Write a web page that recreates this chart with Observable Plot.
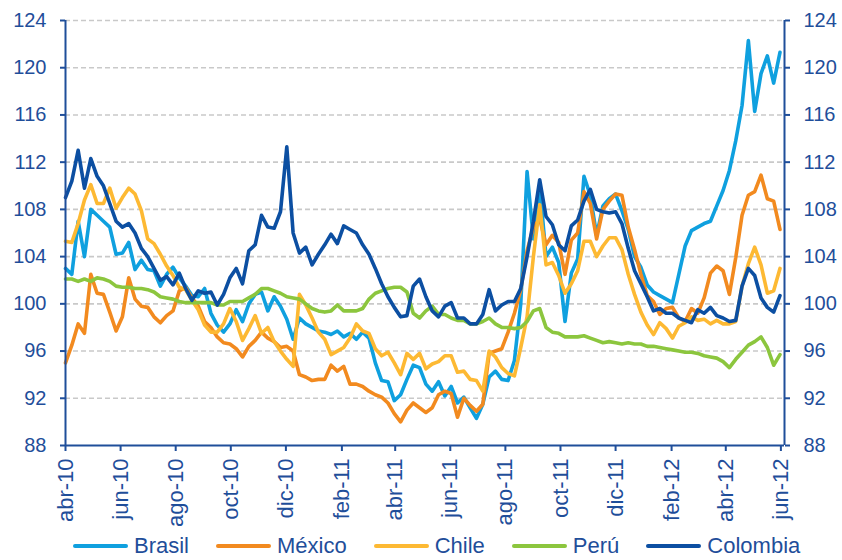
<!DOCTYPE html>
<html>
<head>
<meta charset="utf-8">
<script src="https://cdn.jsdelivr.net/npm/d3@7"></script>
<script src="https://cdn.jsdelivr.net/npm/@observablehq/plot@0.6"></script>
<style>
  html, body { margin: 0; padding: 0; background: #ffffff; }
  body { font-family: "Liberation Sans", Arial, sans-serif; }
  #chart { width: 842px; height: 560px; position: relative; overflow: hidden; }
  #chart svg { display: block; }
  .legend { display: flex; align-items: center; height: 28px; padding-left: 73px; color: #1f4e9a; font-size: 22px; line-height: 1; }
  .item { display: flex; align-items: center; margin-right: 27px; }
  .sw { width: 55px; height: 4px; margin-right: 6px; border-radius: 2px; }
</style>
</head>
<body>
<div id="chart"></div>
<script>
// ---------- data ----------
const startDate = "2010-04-01";           // first weekly observation
const stepDays = 7;                        // one observation per week
const xDomain = ["2010-04-01", "2012-06-05"];
const tickDates = ["2010-04-01","2010-06-01","2010-08-01","2010-10-01","2010-12-01","2011-02-01","2011-04-01",
                   "2011-06-01","2011-08-01","2011-10-01","2011-12-01","2012-02-01","2012-04-01","2012-06-01"];
const tickLabels = ["abr-10","jun-10","ago-10","oct-10","dic-10","feb-11","abr-11",
                    "jun-11","ago-11","oct-11","dic-11","feb-12","abr-12","jun-12"];
const yTicks = [88, 92, 96, 100, 104, 108, 112, 116, 120, 124];
const countries = ["Brasil", "México", "Chile", "Perú", "Colombia"];
const colors = ["#0fa0df", "#f28a1f", "#fdb933", "#8cc63e", "#0c4fa2"];

const brasil = [103,102.5,107,104,108,107.5,107,106.5,104.2,104.3,
  105.2,102.9,103.7,102.9,102.8,101.5,102.5,103.1,102.2,101.5,
  100.7,100.6,101.3,99.2,98.2,97.6,98.3,99.5,98.5,100,
  100.8,101,99.4,100.6,99.8,98.7,97,98.8,98.3,98,
  97.7,97.6,97.4,97.7,97.2,97.5,97,97.6,97.1,95,
  93.5,93.4,91.8,92.3,93.6,94.8,94.6,93.2,92.6,93.4,
  92.2,93.0,91.6,92.1,91.2,90.3,91.5,93.8,94.3,93.6,
  93.5,95.2,100,111.2,105.5,110,104,104.8,103.5,98.5,
  102.6,103.8,110.8,109.2,105.8,108.3,108.9,109.3,107.9,106.3,
  104,103.1,101.6,101,100.7,100.4,100.1,102.5,104.9,106.2,
  106.5,106.8,107,108.3,109.6,111.3,113.8,116.8,122.3,116.3,
  119.5,121,118.7,121.3];

const mexico = [95,96.5,98.3,97.5,102.5,100.9,100.8,99.3,97.7,98.9,
  102.2,100.4,99.8,99.7,98.9,98.4,99,99.4,101.1,101.4,
  100.5,99.8,98.5,98,97.2,96.7,96.6,96.2,95.5,96.4,
  96.9,97.6,97.1,96.8,96.3,96.4,96,94,93.8,93.5,
  93.6,93.6,94.8,94.3,94.7,93.2,93.2,93,92.6,92.3,
  92.1,91.6,90.7,90,91,91.6,91.2,90.8,91.2,92.3,
  92.6,92.4,90.4,92.0,91.4,90.9,91.5,95.8,96.0,96.2,
  97.6,99.2,101.2,104.5,106.5,107.2,105,105.8,105.2,102.5,
  105.4,106,109.5,108.5,105.5,108,108.7,109.3,109.2,106.5,
  104.6,102.5,100.7,100.2,99.1,99.6,99.7,98.8,98.5,99.6,
  99.2,100.5,102.6,103.2,102.8,100.8,103.9,107.5,109.2,109.5,
  110.9,108.9,108.7,106.3];

const chile = [105.3,105.2,106.8,108.8,110.1,108.5,108.5,109.8,108.1,109,
  109.8,109.3,107.9,105.5,105.1,104.2,103.2,102.4,101.4,101.2,
  100.3,99.5,98.2,97.6,97.6,98.3,99.6,98.5,96.9,97.9,
  99,97.5,98,96.8,96,95.3,94.7,100.8,99.9,98.8,
  97.6,97,95.7,96,96.3,97.1,98.3,97.7,97.5,96.2,
  95.6,95.9,95,94,95.8,95.3,95.8,94.5,94.9,95.1,
  95.6,95.6,94.2,94.3,93.6,93.5,92.6,96,95.5,94.6,
  94.1,93.9,96.3,98.9,104,108.4,103.3,103.5,102.4,100.9,
  101.7,102.8,105.3,105.3,104,104.9,105.6,105.6,104.6,102.5,
  100.8,99.3,98.2,97.4,98.4,97.9,97.1,98.1,98.4,98.9,
  98.6,98.7,98.3,98.6,98.3,98.3,98.5,101.5,103.4,104.8,
  103.3,100.9,101.1,103];

const peru = [102.1,102.1,101.9,102.1,101.9,102.2,102.1,101.9,101.5,101.4,
  101.4,101.3,101.3,101.2,101,100.6,100.5,100.4,100.2,100.1,
  100.1,100.1,100.1,100.1,99.9,99.9,100.2,100.2,100.2,100.5,
  100.8,101.3,101.3,101.1,100.9,100.6,100.5,100.4,100,99.6,
  99.4,99.3,99.4,99.9,99.4,99.4,99.4,99.6,100.4,100.9,
  101.1,101.3,101.4,101.4,101,99.2,98.8,99.4,99.8,99.1,
  99.1,98.8,98.6,98.6,98.3,98.3,98.5,98.8,98.3,98,
  98,97.9,98,98.5,99.4,99.6,98,97.6,97.5,97.2,
  97.2,97.2,97.3,97.1,96.9,96.7,96.8,96.7,96.6,96.7,
  96.6,96.6,96.4,96.4,96.3,96.2,96.1,96,95.9,95.9,
  95.8,95.6,95.5,95.4,95.1,94.6,95.3,95.9,96.5,96.8,
  97.2,96.3,94.8,95.7];

const colombia = [109,110.4,113,109.8,112.3,110.8,110,108.5,107,106.5,
  106.8,106,104.7,104,103,102,102.3,101.6,102.6,101.3,
  100.3,101.1,100.9,101,99.9,100.8,102.2,103,101.7,104.5,
  105,107.5,106.5,106.4,107.8,113.3,106,104.3,104.8,103.3,
  104.2,105,105.9,105.1,106.6,106.3,106,105,104.2,103,
  101.7,100.6,99.7,98.9,99,101.5,102.1,100.6,99.4,98.9,
  99.8,100.1,98.8,98.8,98.3,98.3,99.1,101.2,99.4,99.9,
  100.2,100.2,101.3,104,107,110.5,107.4,106.7,105,104.5,
  106.6,107.1,108.7,109.7,108,107.8,107.7,107.8,106.8,104.7,
  102.8,101.7,100.6,99.4,99.6,99.2,99.2,98.8,98.6,98.4,
  99.5,99.2,99.7,99,98.8,98.5,98.6,101.5,103,102.4,
  100.5,99.7,99.3,100.7];

// ---------- build table ----------
const seriesValues = [brasil, mexico, chile, peru, colombia];
const start = new Date(startDate);
const rows = countries.flatMap((c, i) =>
  seriesValues[i].map((v, k) => ({country: c, date: d3.utcDay.offset(start, stepDays * k), value: v}))
);

const axisColor = "#1f4e9a";
const x0 = new Date(xDomain[0]);
const x1 = new Date(xDomain[1]);
const xTicks = tickDates.map(d => new Date(d));
const labelFor = d => tickLabels[xTicks.findIndex(t => +t === +d)];

const chart = Plot.plot({
  width: 842,
  height: 532,
  marginTop: 20,
  marginBottom: 87,
  marginLeft: 65,
  marginRight: 58,
  style: {fontFamily: "'Liberation Sans', Arial, sans-serif", color: axisColor, background: "#ffffff", overflow: "visible"},
  x: {type: "utc", domain: [x0, x1]},
  y: {domain: [yTicks[0], yTicks[yTicks.length - 1]]},
  color: {domain: countries, range: colors},
  marks: [
    Plot.ruleY(yTicks.slice(1), {stroke: "#c9c9c9", strokeWidth: 1.6, strokeDasharray: "5,3"}),
    Plot.lineY(rows, {x: "date", y: "value", z: "country", stroke: "country", strokeWidth: 3.6, strokeLinejoin: "round", strokeLinecap: "round"}),
    Plot.ruleX([x0, x1], {stroke: axisColor, strokeWidth: 2}),
    Plot.ruleY([yTicks[0]], {stroke: axisColor, strokeWidth: 2}),
    Plot.axisY({anchor: "left", ticks: yTicks, tickSize: 5, tickPadding: 14, fontSize: 20, strokeWidth: 2, label: null}),
    Plot.axisY({anchor: "right", ticks: yTicks, tickSize: 5, tickPadding: 14, fontSize: 20, strokeWidth: 2, label: null}),
    Plot.axisX({ticks: xTicks, tickFormat: labelFor, tickRotate: -90, tickSize: 6, tickPadding: 7, fontSize: 22, strokeWidth: 2, label: null})
  ]
});

const host = document.getElementById("chart");
host.appendChild(chart);

// ---------- legend ----------
const legend = document.createElement("div");
legend.className = "legend";
countries.forEach((c, i) => {
  const item = document.createElement("div");
  item.className = "item";
  const sw = document.createElement("span");
  sw.className = "sw";
  sw.style.background = colors[i];
  const tx = document.createElement("span");
  tx.textContent = c;
  item.appendChild(sw);
  item.appendChild(tx);
  legend.appendChild(item);
});
host.appendChild(legend);
</script>
</body>
</html>
